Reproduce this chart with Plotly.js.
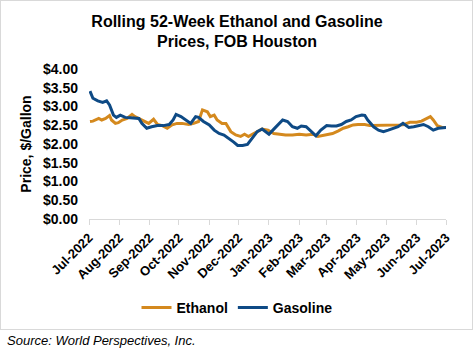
<!DOCTYPE html>
<html>
<head>
<meta charset="utf-8">
<script src="https://cdn.plot.ly/plotly-3.0.1.min.js"></script>
<style>
  html, body { margin: 0; padding: 0; background: #fff; }
  #wrap { position: relative; width: 474px; height: 350px; }
  #chart { position: absolute; left: 0; top: 0; width: 474px; height: 350px; }
  #frame { position: absolute; left: 0px; top: 0px; width: 471px; height: 328px; border: 1px solid #d9d9d9; pointer-events: none; }
</style>
</head>
<body>
<div id="wrap">
  <div id="chart"></div>
  <div id="frame"></div>
</div>
<script>
const gasolineDates = [
  "2022-07-02","2022-07-05","2022-07-10","2022-07-15","2022-07-19","2022-07-22","2022-07-26","2022-07-29",
  "2022-08-02","2022-08-07","2022-08-12","2022-08-17","2022-08-21","2022-08-24","2022-08-29",
  "2022-09-03","2022-09-09","2022-09-15","2022-09-21","2022-09-25","2022-09-28",
  "2022-10-03","2022-10-09","2022-10-13","2022-10-18","2022-10-21","2022-10-26",
  "2022-11-01","2022-11-06","2022-11-11","2022-11-16","2022-11-21","2022-11-26","2022-11-30",
  "2022-12-05","2022-12-10","2022-12-15","2022-12-20","2022-12-25","2022-12-29",
  "2023-01-01","2023-01-05","2023-01-10","2023-01-15","2023-01-20","2023-01-25","2023-01-30",
  "2023-02-03","2023-02-08","2023-02-13","2023-02-18","2023-02-23",
  "2023-03-01","2023-03-06","2023-03-11","2023-03-16","2023-03-21","2023-03-26","2023-03-31",
  "2023-04-06","2023-04-09","2023-04-12","2023-04-18","2023-04-23","2023-04-28",
  "2023-05-03","2023-05-08","2023-05-13","2023-05-18","2023-05-24","2023-05-29",
  "2023-06-03","2023-06-08","2023-06-13","2023-06-18","2023-06-23","2023-06-28","2023-07-02"
];
const gasolinePrices = [
  3.41,3.22,3.15,3.11,3.15,3.04,2.77,2.71,
  2.77,2.71,2.70,2.70,2.68,2.55,2.42,
  2.46,2.49,2.49,2.52,2.64,2.79,
  2.73,2.61,2.55,2.73,2.71,2.60,
  2.51,2.37,2.28,2.24,2.15,2.05,1.96,
  1.96,1.99,2.15,2.33,2.40,2.31,
  2.26,2.37,2.51,2.64,2.60,2.46,2.42,
  2.48,2.46,2.33,2.22,2.37,
  2.49,2.48,2.48,2.52,2.60,2.64,2.73,
  2.77,2.76,2.64,2.46,2.37,2.33,
  2.37,2.42,2.46,2.55,2.44,2.46,
  2.49,2.52,2.46,2.37,2.42,2.42,2.44
];

const ethanolDates = [
  "2022-07-02","2022-07-05","2022-07-11","2022-07-14","2022-07-18","2022-07-22","2022-07-24","2022-07-28","2022-07-31",
  "2022-08-04","2022-08-09","2022-08-14","2022-08-17","2022-08-21","2022-08-26","2022-08-31",
  "2022-09-05","2022-09-09","2022-09-14","2022-09-19","2022-09-24","2022-09-29",
  "2022-10-04","2022-10-11","2022-10-16","2022-10-21","2022-10-25","2022-10-30",
  "2022-11-02","2022-11-06","2022-11-09","2022-11-14","2022-11-18","2022-11-23","2022-11-28",
  "2022-12-03","2022-12-07","2022-12-11","2022-12-15","2022-12-20","2022-12-25","2022-12-31",
  "2023-01-06","2023-01-12","2023-01-18","2023-01-25",
  "2023-02-01","2023-02-08","2023-02-15","2023-02-20","2023-02-25",
  "2023-03-02","2023-03-07","2023-03-13","2023-03-18","2023-03-23","2023-03-28",
  "2023-04-02","2023-04-09","2023-04-14","2023-04-21","2023-04-28",
  "2023-05-05","2023-05-11","2023-05-18","2023-05-25",
  "2023-06-01","2023-06-06","2023-06-11","2023-06-15","2023-06-18","2023-06-22","2023-06-27","2023-07-02"
];
const ethanolPrices = [
  2.60,2.61,2.68,2.64,2.68,2.76,2.64,2.55,2.57,
  2.64,2.68,2.79,2.73,2.68,2.61,2.55,
  2.66,2.52,2.49,2.42,2.51,2.55,
  2.55,2.52,2.55,2.60,2.91,2.86,
  2.73,2.77,2.64,2.55,2.55,2.33,2.24,
  2.20,2.26,2.20,2.26,2.33,2.40,2.37,
  2.28,2.26,2.24,2.24,
  2.26,2.24,2.26,2.20,2.22,
  2.24,2.28,2.35,2.42,2.46,2.51,
  2.52,2.52,2.49,2.49,2.49,
  2.49,2.51,2.51,2.58,
  2.58,2.61,2.68,2.73,2.64,2.49,2.44,2.44
];

const tickDates = ["2022-07-01","2022-08-01","2022-09-01","2022-10-01","2022-11-01","2022-12-01",
  "2023-01-01","2023-02-01","2023-03-01","2023-04-01","2023-05-01","2023-06-01","2023-07-01"];
const tickLabels = ["Jul-2022","Aug-2022","Sep-2022","Oct-2022","Nov-2022","Dec-2022",
  "Jan-2023","Feb-2023","Mar-2023","Apr-2023","May-2023","Jun-2023","Jul-2023"];
const yTicks = [0,0.5,1,1.5,2,2.5,3,3.5,4];
const yTickLabels = ["$0.00","$0.50","$1.00","$1.50","$2.00","$2.50","$3.00","$3.50","$4.00"];

const FONT = "Liberation Sans, Arial, sans-serif";

const traces = [
  { x: ethanolDates, y: ethanolPrices, name: "Ethanol", type: "scatter", mode: "lines",
    line: { color: "#D4891E", width: 3 } },
  { x: gasolineDates, y: gasolinePrices, name: "Gasoline", type: "scatter", mode: "lines",
    line: { color: "#0E4A85", width: 3 } }
];

const layout = {
  width: 474, height: 350,
  margin: { l: 89, r: 28, t: 69, b: 131, pad: 0 },
  paper_bgcolor: "rgba(0,0,0,0)",
  plot_bgcolor: "#fff",
  font: { family: FONT, color: "#000" },
  title: {
    text: "<b>Rolling 52-Week Ethanol and Gasoline<br>Prices, FOB Houston</b>",
    font: { family: FONT, size: 16, color: "#000" },
    xref: "container", x: 0.5, xanchor: "center",
    yref: "container", y: 0.924, yanchor: "top"
  },
  xaxis: {
    type: "date",
    range: ["2022-07-01", "2023-07-01"],
    tickmode: "array", tickvals: tickDates, ticktext: tickLabels,
    tickangle: -45,
    tickfont: { family: FONT, size: 13, color: "#000", weight: "bold" },
    showgrid: false, zeroline: false,
    showline: true, linecolor: "#d9d9d9", linewidth: 1,
    ticks: "outside", ticklen: 5, tickcolor: "#d9d9d9", tickwidth: 1
  },
  yaxis: {
    range: [0, 4],
    tickmode: "array", tickvals: yTicks, ticktext: yTickLabels,
    tickfont: { family: FONT, size: 14, color: "#000", weight: "bold" },
    showgrid: false, zeroline: false, showline: false, ticks: "",
    ticklabelstandoff: 10,
    title: { text: "<b>Price, $/Gallon</b>", font: { family: FONT, size: 14, color: "#000" }, standoff: 8 }
  },
  showlegend: true,
  legend: {
    orientation: "h",
    xref: "container", x: 0.5, xanchor: "center",
    yref: "container", y: 0.12, yanchor: "middle",
    font: { family: FONT, size: 14, color: "#000", weight: "bold" },
    bgcolor: "rgba(0,0,0,0)"
  },
  annotations: [
    { text: "<i>Source: World Perspectives, Inc.</i>", xref: "paper", yref: "paper",
      x: -0.235, y: -0.807, xanchor: "left", yanchor: "middle", showarrow: false,
      font: { family: FONT, size: 13, color: "#000" } }
  ]
};

Plotly.newPlot("chart", traces, layout, { displayModeBar: false, staticPlot: true });
</script>
</body>
</html>
